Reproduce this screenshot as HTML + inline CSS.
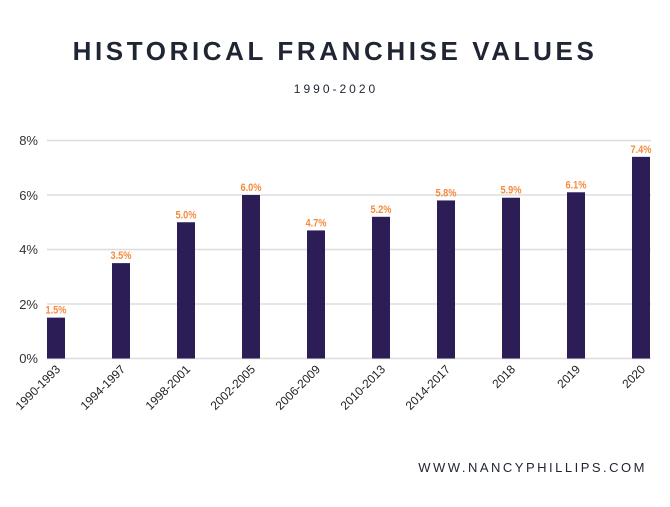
<!DOCTYPE html>
<html><head><style>
body{margin:0;width:670px;height:502px;background:#fff;overflow:hidden;font-family:"Liberation Sans",sans-serif;}
</style></head><body>
<svg width="670" height="502" xmlns="http://www.w3.org/2000/svg">
<text x="335" y="60" text-anchor="middle" font-family="Liberation Sans" font-weight="bold" font-size="26" letter-spacing="3.6" fill="#1f2533">HISTORICAL FRANCHISE VALUES</text>
<text x="336" y="93" text-anchor="middle" font-family="Liberation Sans" font-size="12" letter-spacing="3" fill="#1f2533">1990-2020</text>
<g stroke="#dddddd" stroke-width="1.5">
<line x1="47" x2="651" y1="140.5" y2="140.5"/>
<line x1="47" x2="651" y1="195" y2="195"/>
<line x1="47" x2="651" y1="249.5" y2="249.5"/>
<line x1="47" x2="651" y1="304" y2="304"/>
<line x1="47" x2="651" y1="358.5" y2="358.5"/>
</g>
<g font-family="Liberation Sans" font-size="13" fill="#333" text-anchor="end">
<text x="38" y="145">8%</text><text x="38" y="200">6%</text><text x="38" y="254">4%</text><text x="38" y="309">2%</text><text x="38" y="363">0%</text>
</g>
<g fill="#2c1d57" id="bars"></g>
<g id="vals" font-family="Liberation Sans" font-size="11" fill="#f58a3c" text-anchor="middle" font-weight="bold"></g>
<g id="cats" font-family="Liberation Sans" font-size="12" fill="#222" text-anchor="end"></g>
<text x="647" y="472" text-anchor="end" font-family="Liberation Sans" font-size="13" letter-spacing="2.5" fill="#1f2533">WWW.NANCYPHILLIPS.COM</text>
</svg>
<script>
var v=[1.5,3.5,5.0,6.0,4.7,5.2,5.8,5.9,6.1,7.4];
var c=["1990-1993","1994-1997","1998-2001","2002-2005","2006-2009","2010-2013","2014-2017","2018","2019","2020"];
var ns="http://www.w3.org/2000/svg",b=document.getElementById("bars"),vl=document.getElementById("vals"),cl=document.getElementById("cats");
for(var i=0;i<10;i++){var x=47+i*65,h=v[i]*27.25,y=358.5-h;
var r=document.createElementNS(ns,"rect");r.setAttribute("x",x);r.setAttribute("y",y);r.setAttribute("width",18);r.setAttribute("height",h);b.appendChild(r);
var t=document.createElementNS(ns,"text");t.setAttribute("x",x+9);t.setAttribute("y",y-4);t.setAttribute("textLength",21);t.setAttribute("lengthAdjust","spacingAndGlyphs");t.textContent=v[i].toFixed(1)+"%";vl.appendChild(t);
var u=document.createElementNS(ns,"text");var cx=x+14,cy=370;u.setAttribute("x",cx);u.setAttribute("y",cy);u.setAttribute("transform","rotate(-45 "+cx+" "+cy+")");u.textContent=c[i];cl.appendChild(u);}
</script>
</body></html>
